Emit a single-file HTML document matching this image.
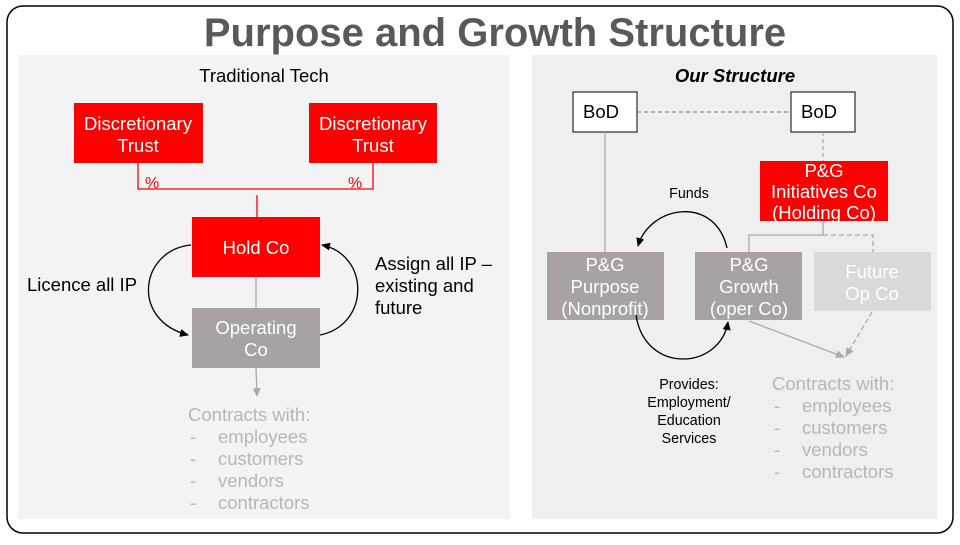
<!DOCTYPE html>
<html><head><style>
body{margin:0;width:960px;height:540px;background:#fff;font-family:"Liberation Sans",sans-serif;overflow:hidden}
</style></head><body>
<svg width="960" height="540" xmlns="http://www.w3.org/2000/svg" font-family="Liberation Sans, sans-serif">
<defs>
<marker id="ab" markerWidth="10" markerHeight="10" refX="8" refY="5" orient="auto" markerUnits="userSpaceOnUse"><path d="M0,1 L9,5 L0,9 Z" fill="#000"/></marker>
<marker id="ag" markerWidth="10" markerHeight="10" refX="8" refY="5" orient="auto" markerUnits="userSpaceOnUse"><path d="M0,1 L9,5 L0,9 Z" fill="#aaa"/></marker>
</defs>
<rect x="7" y="6" width="946" height="527" rx="16" fill="#fff" stroke="#000" stroke-width="1.5"/>
<text x="495" y="46" font-size="40" font-weight="bold" fill="#595959" text-anchor="middle">Purpose and Growth Structure</text>
<rect x="18" y="55" width="492" height="464" fill="#f3f3f3"/>
<rect x="532" y="55" width="405" height="464" fill="#efefef"/>
<g font-size="18.5">
<text x="264" y="82" text-anchor="middle">Traditional Tech</text>
<rect x="74" y="103" width="129" height="60" fill="#f00"/>
<text x="138" y="130" fill="#fff" text-anchor="middle">Discretionary</text>
<text x="138" y="152" fill="#fff" text-anchor="middle">Trust</text>
<rect x="309" y="103" width="128" height="60" fill="#f00"/>
<text x="373" y="130" fill="#fff" text-anchor="middle">Discretionary</text>
<text x="373" y="152" fill="#fff" text-anchor="middle">Trust</text>
<polyline points="138,163 138,189 373,189 373,163" fill="none" stroke="#f00" stroke-width="1.3"/>
<text x="145" y="188" font-size="16" fill="#f00">%</text>
<text x="348" y="188" font-size="16" fill="#f00">%</text>
<line x1="257" y1="195" x2="257" y2="217" stroke="#f00" stroke-width="1.3"/>
<rect x="192" y="217" width="128" height="60" fill="#f00"/>
<text x="256" y="254" fill="#fff" text-anchor="middle">Hold Co</text>
<line x1="256" y1="277" x2="256" y2="308" stroke="#aaa" stroke-width="1.3"/>
<rect x="192" y="308" width="128" height="60" fill="#a6a3a2"/>
<text x="256" y="334" fill="#fff" text-anchor="middle">Operating</text>
<text x="256" y="356" fill="#fff" text-anchor="middle">Co</text>
<line x1="256" y1="368" x2="257" y2="396" stroke="#aaa" stroke-width="1.3" marker-end="url(#ag)"/>
<path d="M191,245 C140,250 130,320 188,335" fill="none" stroke="#000" stroke-width="1.3" marker-end="url(#ab)"/>
<path d="M320,335 C370,325 370,255 322,245" fill="none" stroke="#000" stroke-width="1.3" marker-end="url(#ab)"/>
<text x="27" y="291">Licence all IP</text>
<text x="375" y="270">Assign all IP –</text>
<text x="375" y="292">existing and</text>
<text x="375" y="314">future</text>
<g fill="#b7b7b7">
<text x="188" y="421">Contracts with:</text>
<text x="190" y="443">-</text><text x="218" y="443">employees</text>
<text x="190" y="465">-</text><text x="218" y="465">customers</text>
<text x="190" y="487">-</text><text x="218" y="487">vendors</text>
<text x="190" y="509">-</text><text x="218" y="509">contractors</text>
</g>
<text x="735" y="82" font-weight="bold" font-style="italic" text-anchor="middle">Our Structure</text>
<rect x="573" y="92" width="64" height="40" fill="#fff" stroke="#000"/>
<text x="583" y="118">BoD</text>
<rect x="791" y="92" width="64" height="40" fill="#fff" stroke="#000"/>
<text x="801" y="118">BoD</text>
<line x1="637" y1="112" x2="791" y2="112" stroke="#777" stroke-dasharray="4,3"/>
<line x1="605" y1="132" x2="605" y2="252" stroke="#aaa" stroke-width="1.3"/>
<line x1="823" y1="132" x2="823" y2="161" stroke="#999" stroke-dasharray="4,3"/>
<rect x="760" y="161" width="128" height="60" fill="#f00"/>
<text x="824" y="177" fill="#fff" text-anchor="middle">P&amp;G</text>
<text x="824" y="198" fill="#fff" text-anchor="middle">Initiatives Co</text>
<text x="824" y="219" fill="#fff" text-anchor="middle">(Holding Co)</text>
<polyline points="823,221 823,235 749,235 749,252" fill="none" stroke="#aaa" stroke-width="1.3"/>
<polyline points="823,235 873,235 873,252" fill="none" stroke="#aaa" stroke-width="1.3" stroke-dasharray="5,3"/>
<rect x="547" y="252" width="117" height="68" fill="#a6a3a2"/>
<text x="605" y="271" fill="#fff" text-anchor="middle">P&amp;G</text>
<text x="605" y="293" fill="#fff" text-anchor="middle">Purpose</text>
<text x="605" y="315" fill="#fff" text-anchor="middle">(Nonprofit)</text>
<rect x="695" y="252" width="107" height="68" fill="#a6a3a2"/>
<text x="749" y="271" fill="#fff" text-anchor="middle">P&amp;G</text>
<text x="749" y="293" fill="#fff" text-anchor="middle">Growth</text>
<text x="749" y="315" fill="#fff" text-anchor="middle">(oper Co)</text>
<rect x="814" y="252" width="117" height="59" fill="#d9d9d9"/>
<text x="872" y="278" fill="#fff" text-anchor="middle">Future</text>
<text x="872" y="300" fill="#fff" text-anchor="middle">Op Co</text>
<g fill="#b7b7b7">
<text x="772" y="390">Contracts with:</text>
<text x="774" y="412">-</text><text x="802" y="412">employees</text>
<text x="774" y="434">-</text><text x="802" y="434">customers</text>
<text x="774" y="456">-</text><text x="802" y="456">vendors</text>
<text x="774" y="478">-</text><text x="802" y="478">contractors</text>
</g>
</g>
<line x1="749" y1="321" x2="844" y2="357" stroke="#aaa" stroke-width="1.3" marker-end="url(#ag)"/>
<line x1="872" y1="312" x2="846" y2="356" stroke="#aaa" stroke-width="1.3" stroke-dasharray="5,3" marker-end="url(#ag)"/>
<path d="M727,248 C715,195 650,205 638,246" fill="none" stroke="#000" stroke-width="1.3" marker-end="url(#ab)"/>
<path d="M636,315 C645,375 720,370 728,322" fill="none" stroke="#000" stroke-width="1.3" marker-end="url(#ab)"/>
<g font-size="14.3" text-anchor="middle">
<text x="689" y="198">Funds</text>
<text x="689" y="389">Provides:</text>
<text x="689" y="407">Employment/</text>
<text x="689" y="425">Education</text>
<text x="689" y="443">Services</text>
</g>
</svg>
</body></html>
